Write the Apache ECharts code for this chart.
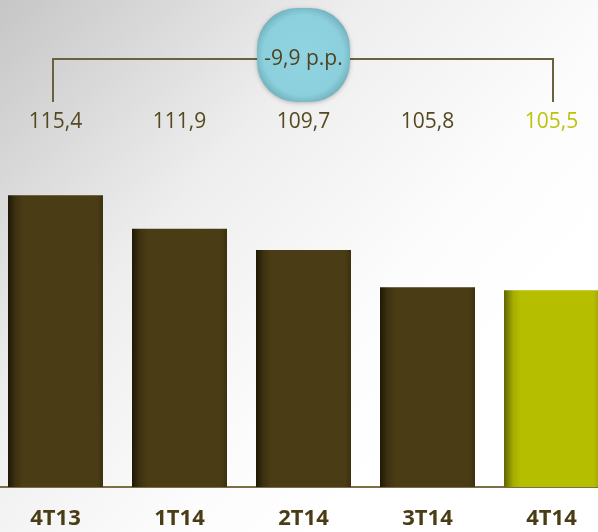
<!DOCTYPE html>
<html>
<head>
<meta charset="utf-8">
<script src="https://cdn.jsdelivr.net/npm/echarts@6/dist/echarts.min.js"></script>
<style>
html,body{margin:0;padding:0;background:#fff;}
#c{width:598px;height:532px;}
</style>
</head>
<body>
<div id="c"></div>
<script>
var categories = ['4T13', '1T14', '2T14', '3T14', '4T14'];
var values = [115.4, 111.9, 109.7, 105.8, 105.5];
var changeLabel = '-9,9 p.p.';

var DARK = '#4a3c14';

function fmt(v) { return v.toFixed(1).replace('.', ','); }

function barGrad(last) {
  if (last) {
    return new echarts.graphic.LinearGradient(0, 0, 1, 0, [
      {offset: 0, color: '#5f6400'},
      {offset: 0.1, color: '#a6ae00'},
      {offset: 0.18, color: '#b6be00'},
      {offset: 0.94, color: '#b6be00'},
      {offset: 1, color: '#a3aa00'}
    ]);
  }
  return new echarts.graphic.LinearGradient(0, 0, 1, 0, [
    {offset: 0, color: '#1e1906'},
    {offset: 0.08, color: '#3d3111'},
    {offset: 0.16, color: '#4a3c14'},
    {offset: 0.94, color: '#4a3c14'},
    {offset: 1, color: '#3b3010'}
  ]);
}

var chart = echarts.init(document.getElementById('c'), null, {renderer: 'canvas'});

var option = {
  backgroundColor: new echarts.graphic.LinearGradient(0, 0, 0.75, 0.75, [
    {offset: 0, color: '#c6c6c6'},
    {offset: 0.45, color: '#eeeeee'},
    {offset: 0.8, color: '#fcfcfc'},
    {offset: 1, color: '#ffffff'}
  ]),
  animation: false,
  grid: {left: -6.5, right: -15.5, top: 55, bottom: 45, outerBoundsMode: 'none', containLabel: false},
  xAxis: [{
    type: 'category',
    data: categories,
    axisTick: {show: false},
    axisLine: {lineStyle: {color: '#7d6e4a', width: 2}},
    axisLabel: {
      margin: 21,
      fontFamily: 'Open Sans',
      fontWeight: 'bold',
      fontSize: 22,
      lineHeight: 21,
      color: DARK
    }
  }, {
    type: 'category',
    data: values.map(fmt),
    position: 'bottom',
    offset: -375,
    axisTick: {show: false},
    axisLine: {show: false},
    axisLabel: {
      margin: 0,
      fontFamily: 'Open Sans',
      fontSize: 21,
      lineHeight: 21,
      color: function (v, i) { return i === values.length - 1 ? '#bcc40a' : '#564920'; }
    }
  }],
  yAxis: {
    type: 'value',
    min: 85,
    max: 130,
    show: false,
    splitLine: {show: false}
  },
  series: [{
    type: 'bar',
    data: values.map(function (v, i) {
      return {value: v, itemStyle: {color: barGrad(i === values.length - 1)}};
    }),
    barWidth: 95,
    xAxisIndex: 0
  }]
};
chart.setOption(option);

var xL = chart.convertToPixel({xAxisIndex: 0}, categories[0]);
var xR = chart.convertToPixel({xAxisIndex: 0}, categories[categories.length - 1]);
var xM = chart.convertToPixel({xAxisIndex: 0}, categories[2]);
var lineY = 59, lineBot = 102;

chart.setOption({
  graphic: [{
    type: 'polyline',
    shape: {points: [[xL - 2.5, lineBot], [xL - 2.5, lineY], [xR + 1.5, lineY], [xR + 1.5, lineBot]]},
    style: {stroke: '#6b6040', lineWidth: 2, fill: null},
    z: 10
  }, {
    type: 'rect',
    shape: {x: xM - 46.5, y: 8, width: 93, height: 94, r: 40},
    style: {
      fill: new echarts.graphic.RadialGradient(0.5, 0.5, 0.6, [
        {offset: 0, color: '#90d4e1'},
        {offset: 0.72, color: '#8dd0dd'},
        {offset: 1, color: '#5e9ea9'}
      ]),
      shadowBlur: 4,
      shadowColor: 'rgba(0,0,0,0.25)',
      shadowOffsetY: 1
    },
    z: 11
  }, {
    type: 'text',
    x: xM,
    y: 59,
    style: {
      text: changeLabel,
      fontFamily: 'Open Sans',
      fontSize: 21,
      fill: '#4f4320',
      align: 'center',
      verticalAlign: 'middle'
    },
    z: 12
  }]
});
</script>
</body>
</html>
